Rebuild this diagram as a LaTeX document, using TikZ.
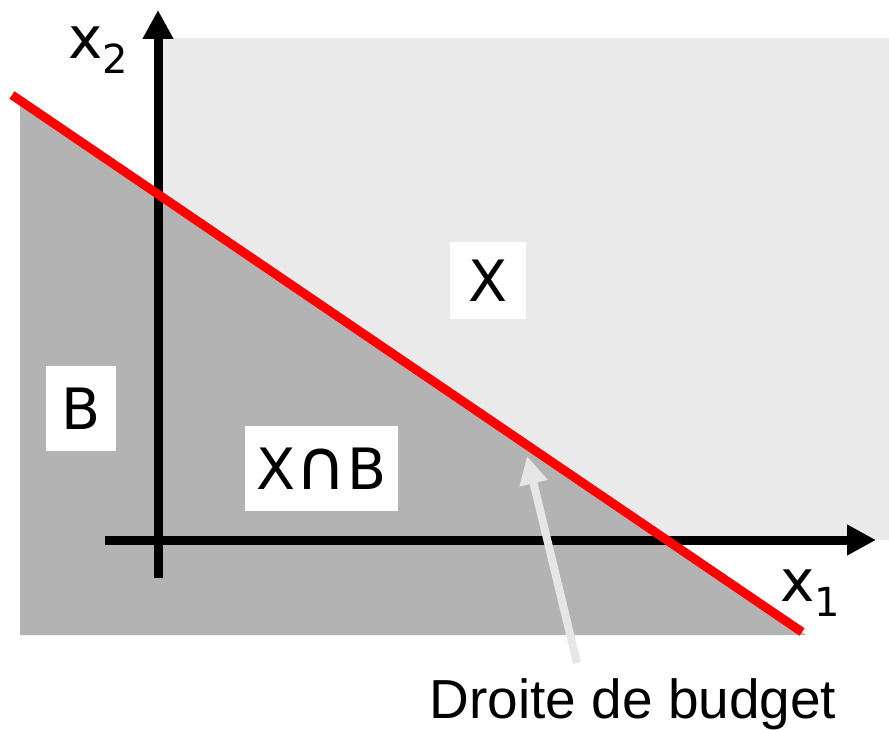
\documentclass[tikz,border=0pt]{standalone}
\usepackage{fontspec}
\setmainfont{Liberation Sans}
\newfontfamily\comic{DejaVu Sans}
\newfontfamily\djv{DejaVu Sans}
\usetikzlibrary{arrows.meta}
\definecolor{lightX}{HTML}{EAEAEA}
\definecolor{darkB}{HTML}{B3B3B3}
\definecolor{arrowgrey}{HTML}{E6E6E6}
\definecolor{budgetred}{HTML}{FF0000}
\begin{document}
\begin{tikzpicture}[x=1pt,y=-1pt,
  axis/.style={line width=9pt,-{Triangle[length=29pt,width=29pt]}},
  budget/.style={line width=9pt,budgetred},
  pointer/.style={line width=8pt,arrowgrey,-{Triangle[length=28pt,width=27pt]}},
  setbox/.style={fill=white,inner sep=0pt,font=\comic\fontsize{57}{57}\selectfont},
  axlabel/.style={inner sep=0pt,font=\comic\fontsize{58}{58}\selectfont},
  caption/.style={inner sep=0pt,font=\fontsize{55}{55}\selectfont}]
\useasboundingbox (0,0) rectangle (889,730);
% regions
\fill[lightX] (160,38) rectangle (889,540);
\fill[darkB] (20,100.4) -- (20,635) -- (806,635) -- cycle;
% axes
\coordinate (yb) at (158,578);
\coordinate (yt) at (158,10);
\coordinate (xl) at (105,540);
\coordinate (xr) at (876,540);
\draw[axis] (yb) -- (yt);
\draw[axis] (xl) -- (xr);
% budget line
\coordinate (bs) at (12,95);
\coordinate (be) at (802,632);
\draw[budget] (bs) -- (be);
% set labels
\node[setbox,minimum width=76pt,minimum height=76pt] (X) at (488,280.5) {X};
\node[setbox,minimum width=70pt,minimum height=85pt] (B) at (81,408.5) {B};
\node[setbox,minimum width=153pt,minimum height=85pt] (XB) at (321.5,468.5) {X{\djv\fontsize{70}{70}\selectfont ∩}B};
% axis labels
\node[axlabel] (x2) at (98,50) {x\raisebox{-15pt}{\fontsize{40}{40}\selectfont 2}};
\node[axlabel] (x1) at (810,593) {x\raisebox{-15pt}{\fontsize{40}{40}\selectfont 1}};
% caption and pointer
\node[caption,anchor=base] (cap) at (633,718) {Droite de budget};
\coordinate (ptail) at (577,663);
\coordinate (ptip) at (527,456);
\draw[pointer] (ptail) -- (ptip);
\end{tikzpicture}
\end{document}
